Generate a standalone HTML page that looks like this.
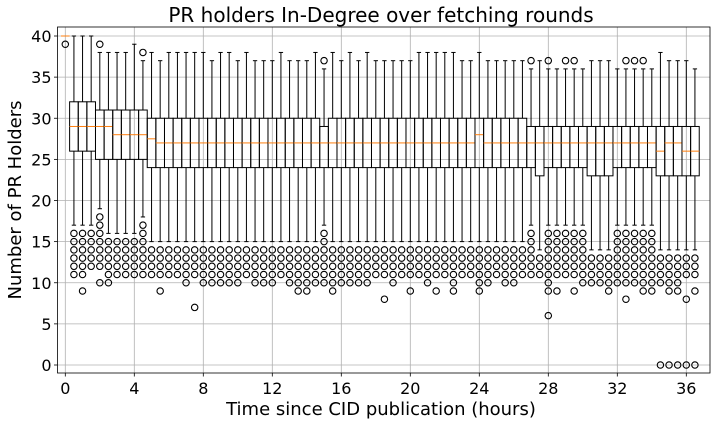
<!DOCTYPE html>
<html><head><meta charset="utf-8"><style>
html,body{margin:0;padding:0;background:#fff;}
svg{display:block;font-family:"DejaVu Sans","Liberation Sans",sans-serif;}
</style></head><body>
<svg id="chart" width="712" height="424" viewBox="0 0 712 424">
<rect x="0" y="0" width="712" height="424" fill="#fff"/>
<text x="381" y="22" font-size="20" text-anchor="middle" fill="#000">PR holders In-Degree over fetching rounds</text>
<text x="381" y="415" font-size="18" text-anchor="middle" fill="#000">Time since CID publication (hours)</text>
<text x="0" y="0" font-size="18" text-anchor="middle" fill="#000" transform="translate(21,200) rotate(-90)">Number of PR Holders</text>
<g id="grid"></g>
<g id="boxes"></g>
<g id="axes"></g>
</svg>
<script>
// x positions (hours) are box index * 0.5
const hours = [0,0.5,1,1.5,2,2.5,3,3.5,4,4.5,5,5.5,6,6.5,7,7.5,8,8.5,9,9.5,10,10.5,11,11.5,12,12.5,13,13.5,14,14.5,15,15.5,16,16.5,17,17.5,18,18.5,19,19.5,20,20.5,21,21.5,22,22.5,23,23.5,24,24.5,25,25.5,26,26.5,27,27.5,28,28.5,29,29.5,30,30.5,31,31.5,32,32.5,33,33.5,34,34.5,35,35.5,36,36.5];
const whiskHi = [40,40,40,40,38,38,38,38,39,37,38,37,38,38,38,38,38,37,38,38,37,38,37,37,37,38,37,37,37,38,36,38,37,38,37,38,37,37,37,37,37,38,38,38,38,38,37,37,38,37,37,37,37,37,36,37,36,36,36,36,36,37,37,37,36,36,36,36,36,38,37,37,37,36];
const q3 = [40,32,32,32,31,31,31,31,31,31,30,30,30,30,30,30,30,30,30,30,30,30,30,30,30,30,30,30,30,30,29,30,30,30,30,30,30,30,30,30,30,30,30,30,30,30,30,30,30,30,30,30,30,30,29,29,29,29,29,29,29,29,29,29,29,29,29,29,29,29,29,29,29,29];
const medians = [40,29,29,29,29,29,28,28,28,28,27.5,27,27,27,27,27,27,27,27,27,27,27,27,27,27,27,27,27,27,27,27,27,27,27,27,27,27,27,27,27,27,27,27,27,27,27,27,27,28,27,27,27,27,27,27,27,27,27,27,27,27,27,27,27,27,27,27,27,27,26,27,27,26,26];
const q1 = [40,26,26,26,25,25,25,25,25,25,24,24,24,24,24,24,24,24,24,24,24,24,24,24,24,24,24,24,24,24,24,24,24,24,24,24,24,24,24,24,24,24,24,24,24,24,24,24,24,24,24,24,24,24,24,23,24,24,24,24,24,23,23,23,24,24,24,24,24,23,23,23,23,23];
const whiskLo = [40,17,17,17,19,16,16,16,16,18,15,15,15,15,15,15,15,15,15,15,15,15,15,15,15,15,15,15,15,15,17,15,15,15,15,15,15,15,15,15,15,15,15,15,15,15,15,15,15,15,15,15,15,15,17,14,17,17,17,17,17,14,14,14,17,17,17,17,17,14,14,14,14,14];
const outliers = [
"39","16,15,14,13,12,11","16,15,14,13,12,11,9","16,15,14,13,12","39,18,17,16,15,14,13,12,10","15,14,13,12,11,10","15,14,13,12,11","15,14,13,12,11","15,14,13,12,11","38,17,16,15,14,13,12,11",
"14,13,12,11","14,13,12,11,9","14,13,12,11","14,13,12,11","14,13,12,11,10","14,13,12,11,7","14,13,12,11,10","14,13,12,11,10","14,13,12,11,10","14,13,12,11,10",
"14,13,12,11,10","14,13,12,11","14,13,12,11,10","14,13,12,11,10","14,13,12,11,10","14,13,12,11","14,13,12,11,10","14,13,12,11,10,9","14,13,12,11,10,9","14,13,12,11,10",
"37,16,15,14,13,12,11,10","14,13,12,11,10,9","14,13,12,11,10","14,13,12,11,10","14,13,12,11,10","14,13,12,11,10","14,13,12,11","14,13,12,11,8","14,13,12,11,10","14,13,12,11",
"14,13,12,11,9","14,13,12,11","14,13,12,11,10","14,13,12,11,9","14,13,12,11","14,13,12,11,10,9","14,13,12,11","14,13,12,11","14,13,12,11,10,9","14,13,12,11,10",
"14,13,12,11","14,13,12,11,10","14,13,12,11,10","14,13,12,11","37,16,15,14,13,12,11","13,12,11","37,16,15,14,13,12,11,10,9,6","16,15,14,13,12,11,9","37,16,15,14,13,12,11","37,16,15,14,13,12,11,9",
"16,15,14,13,12,11,10","13,12,11,10","13,12,11,10","13,12,11,10,9","16,15,14,13,12,11,10","37,16,15,14,13,12,11,10,8","37,16,15,14,13,12,11,10","37,16,15,14,13,12,11,10,9","16,15,14,13,12,11,10,9","13,12,11,10,0",
"13,12,11,10,9,0","13,12,11,10,9,0","13,12,11,8,0","13,12,11,9,0"];
const xTicks = [0,4,8,12,16,20,24,28,32,36];
const yTicks = [0,5,10,15,20,25,30,35,40];

const NS = "http://www.w3.org/2000/svg";
const X0 = 57.5, X1 = 710, Y0 = 27, Y1 = 373;
function xs(h){ return 65.3 + h*17.25; }
function ys(v){ return 365 - v*8.225; }
function mk(tag, attrs, parent){
  const e = document.createElementNS(NS, tag);
  for (const k in attrs) e.setAttribute(k, attrs[k]);
  parent.appendChild(e);
  return e;
}
const grid = document.getElementById('grid');
const boxes = document.getElementById('boxes');
const axes = document.getElementById('axes');

xTicks.forEach(t => {
  const l = mk('line', {x1:xs(t), x2:xs(t), y1:Y0, y2:Y1, stroke:'#b0b0b0', 'stroke-width':0.8}, grid);
  
  
  const tk = mk('line', {x1:xs(t), x2:xs(t), y1:Y1, y2:Y1+3.5, stroke:'#000', 'stroke-width':0.8}, axes);
  
  
  const tx = mk('text', {x:xs(t), y:Y1+21, 'font-size':16, 'text-anchor':'middle', fill:'#000'}, axes);
  tx.textContent = t;
  
  
});
yTicks.forEach(t => {
  const l = mk('line', {x1:X0, x2:X1, y1:ys(t), y2:ys(t), stroke:'#b0b0b0', 'stroke-width':0.8}, grid);
  
  
  const tk = mk('line', {x1:X0-3.5, x2:X0, y1:ys(t), y2:ys(t), stroke:'#000', 'stroke-width':0.8}, axes);
  
  
  const tx = mk('text', {x:X0-6, y:ys(t)+6, 'font-size':16, 'text-anchor':'end', fill:'#000'}, axes);
  tx.textContent = t;
  
  
});
const frame = mk('rect', {x:X0, y:Y0, width:X1-X0, height:Y1-Y0, fill:'none', stroke:'#000', 'stroke-width':0.8}, axes);



const bw = 0.5*17.25;
hours.forEach((h, i) => {
  const g = mk('g', {}, boxes);
  
  
  const cx = xs(h), L = cx - bw/2, cw = bw/4;
  const st = {stroke:'#000', 'stroke-width':1, fill:'none'};
  mk('line', Object.assign({x1:cx, x2:cx, y1:ys(q3[i]), y2:ys(whiskHi[i])}, st), g);
  mk('line', Object.assign({x1:cx, x2:cx, y1:ys(q1[i]), y2:ys(whiskLo[i])}, st), g);
  mk('line', Object.assign({x1:cx-cw, x2:cx+cw, y1:ys(whiskHi[i]), y2:ys(whiskHi[i])}, st), g);
  mk('line', Object.assign({x1:cx-cw, x2:cx+cw, y1:ys(whiskLo[i]), y2:ys(whiskLo[i])}, st), g);
  mk('rect', Object.assign({x:L, y:ys(q3[i]), width:bw, height:Math.max(0, ys(q1[i])-ys(q3[i]))}, st), g);
  mk('line', {x1:L, x2:L+bw, y1:ys(medians[i]), y2:ys(medians[i]), stroke:'#ff7f0e', 'stroke-width':1}, g);
  outliers[i].split(',').forEach(v => {
    mk('circle', {cx:cx, cy:ys(parseFloat(v)), r:3.2, fill:'none', stroke:'#000', 'stroke-width':1.1}, g);
  });
});
</script>
</body></html>
